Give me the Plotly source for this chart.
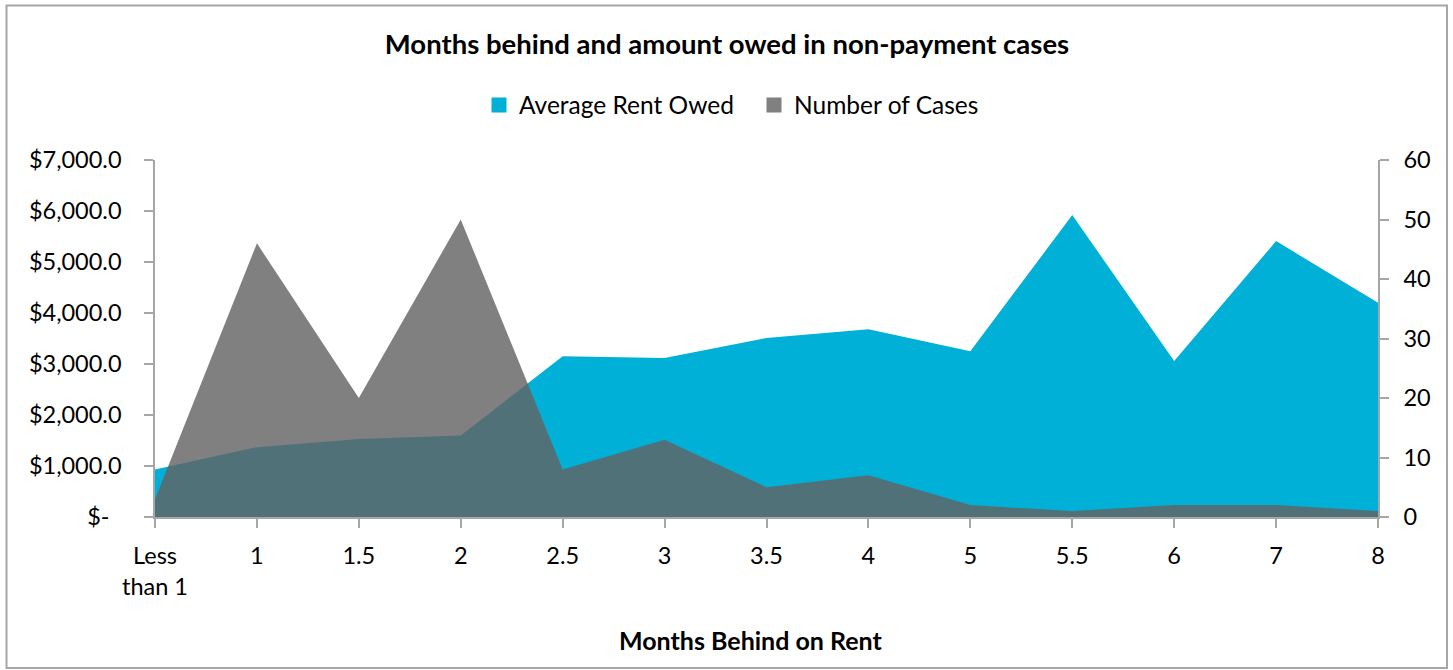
import plotly.graph_objects as go

categories = ["Less<br>than 1", "1", "1.5", "2", "2.5", "3", "3.5", "4", "5", "5.5", "6", "7", "8"]
avg_rent_owed = [930, 1370, 1530, 1600, 3150, 3120, 3510, 3680, 3250, 5920, 3060, 5410, 4200]
num_cases = [3, 46, 20, 50, 8, 13, 5, 7, 2, 1, 2, 2, 1]

left_tickvals = [0, 1000, 2000, 3000, 4000, 5000, 6000, 7000]
left_ticktext = ["$-\u00a0\u00a0", "$1,000.0", "$2,000.0", "$3,000.0", "$4,000.0", "$5,000.0", "$6,000.0", "$7,000.0"]
right_tickvals = [0, 10, 20, 30, 40, 50, 60]

FONT = "Lato"
AX = "#a6a6a6"
BLUE = "#00b0d6"
GREY = "rgba(98,98,98,0.81)"

fig = go.Figure()
fig.add_trace(go.Scatter(
    x=categories, y=avg_rent_owed, name="Average Rent Owed",
    mode="lines", line=dict(width=0, color=BLUE),
    fill="tozeroy", fillcolor=BLUE, yaxis="y", showlegend=False,
))
fig.add_trace(go.Scatter(
    x=categories, y=num_cases, name="Number of Cases",
    mode="lines", line=dict(width=0, color=GREY),
    fill="tozeroy", fillcolor=GREY, yaxis="y2", showlegend=False,
))
# legend entries with square swatches
fig.add_trace(go.Scatter(x=[None], y=[None], mode="markers", name="Average Rent Owed",
                         marker=dict(symbol="square", size=15, color=BLUE)))
fig.add_trace(go.Scatter(x=[None], y=[None], mode="markers", name="Number of Cases",
                         marker=dict(symbol="square", size=15, color="#808080")))

L, R, T, B = 155, 75, 160, 153
W, H = 1453, 670
pw, ph = W - L - R, H - T - B

def px2x(px):
    return (px - L) / pw

def py2y(py):
    return (H - B - py) / ph

TICK = 23.5

fig.update_layout(
    width=W, height=H,
    margin=dict(l=L, r=R, t=T, b=B),
    paper_bgcolor="white", plot_bgcolor="white",
    font=dict(family=FONT, size=TICK, color="black"),
    title=dict(text="<b>Months behind and amount owed in non-payment cases</b>",
               x=727 / W, xref="container", xanchor="center", y=1 - 44 / H, yanchor="middle",
               font=dict(size=27.5, family=FONT)),
    showlegend=True,
    legend=dict(orientation="h", x=px2x(479), xanchor="left", y=py2y(105), yanchor="middle",
                font=dict(size=24.5), itemwidth=30, traceorder="normal", tracegroupgap=0,
                entrywidth=230, entrywidthmode="pixels"),
    xaxis=dict(type="category", range=[0, 12], showgrid=False, showline=True, linecolor=AX,
               linewidth=1.5, ticks="outside", ticklen=9, tickcolor=AX, tickwidth=1.5,
               tickfont=dict(size=TICK), zeroline=False, ticklabelstandoff=8),
    yaxis=dict(range=[0, 7000], tickvals=left_tickvals, ticktext=left_ticktext, showgrid=False,
               showline=True, linecolor=AX, linewidth=1.5, ticks="outside", ticklen=9,
               tickcolor=AX, tickwidth=1.5, zeroline=False, tickfont=dict(size=TICK),
               ticklabelstandoff=18),
    yaxis2=dict(range=[0, 60], tickvals=right_tickvals, overlaying="y", side="right",
                showgrid=False, showline=True, linecolor=AX, linewidth=1.5, ticks="outside",
                ticklen=9, tickcolor=AX, tickwidth=1.5, zeroline=False, tickfont=dict(size=TICK),
                ticklabelstandoff=10),
    annotations=[dict(text="<b>Months Behind on Rent</b>", xref="paper", yref="paper",
                      x=px2x(750), y=py2y(640), xanchor="center", yanchor="middle",
                      showarrow=False, font=dict(size=25, family=FONT))],
    shapes=[dict(type="rect", xref="paper", yref="paper",
                 x0=px2x(6.5), x1=px2x(1447), y0=py2y(668), y1=py2y(5.5),
                 line=dict(color="#a6a6a6", width=2), fillcolor="rgba(0,0,0,0)", layer="below")],
)

fig.write_html("out.html", config={"displayModeBar": False},
               post_script="document.body.style.margin='0px';")
